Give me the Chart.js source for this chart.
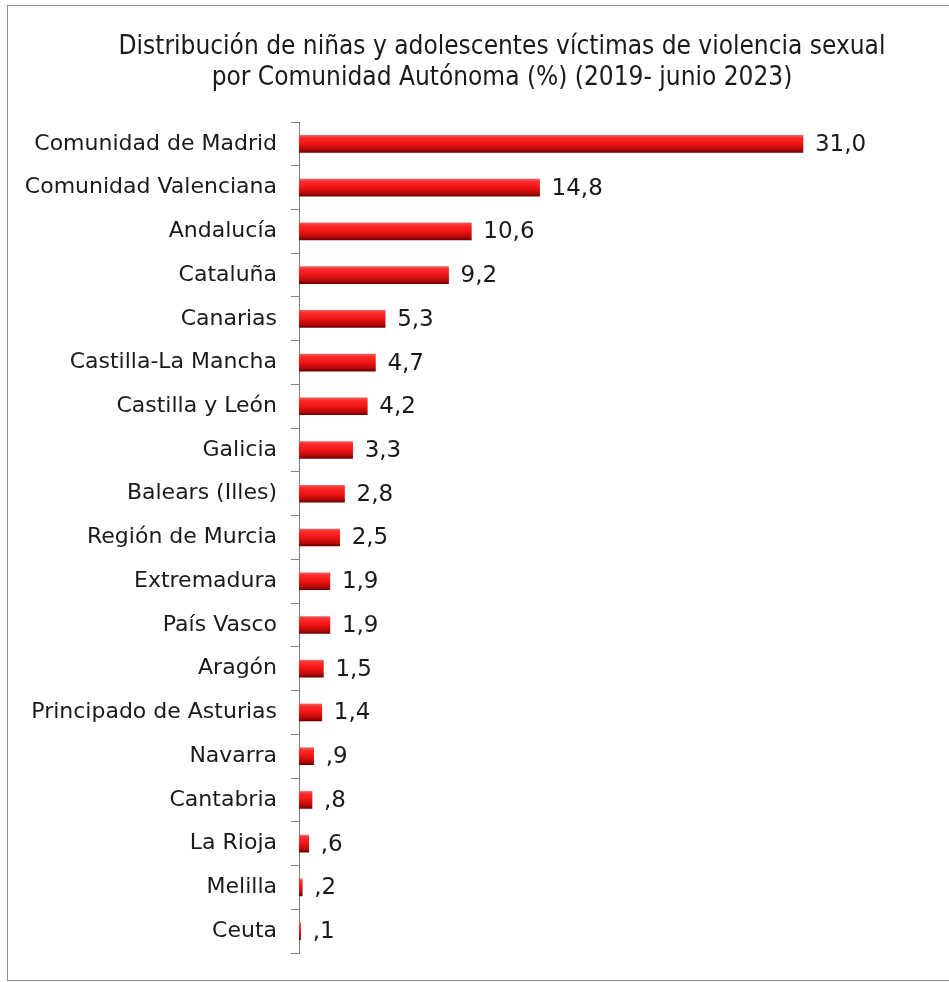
<!DOCTYPE html>
<html lang="es">
<head>
<meta charset="UTF-8">
<title>Niñas y adolescentes víctimas de violencia sexual</title>
<script src="https://cdn.jsdelivr.net/npm/chart.js"></script>
<style>
    body { margin: 0; background: #fff; }
    #wrap { position: relative; width: 949px; height: 982px; overflow: hidden; }
    #frame {
        position: absolute; left: 7px; top: 5px; width: 1000px; height: 974px;
        border: 1px solid #8c8c8c; pointer-events: none;
    }
</style>
</head>
<body>
<div id="wrap">
    <canvas id="chart"></canvas>
    <div id="frame"></div>
</div>
<script>
const regions = [
    "Comunidad de Madrid", "Comunidad Valenciana", "Andalucía", "Cataluña", "Canarias",
    "Castilla-La Mancha", "Castilla y León", "Galicia", "Balears (Illes)", "Región de Murcia",
    "Extremadura", "País Vasco", "Aragón", "Principado de Asturias", "Navarra",
    "Cantabria", "La Rioja", "Melilla", "Ceuta"
];
const percents = [31.0, 14.8, 10.6, 9.2, 5.3, 4.7, 4.2, 3.3, 2.8, 2.5, 1.9, 1.9, 1.5, 1.4, 0.9, 0.8, 0.6, 0.2, 0.1];
const titleLines = [
    "Distribución de niñas y adolescentes víctimas de violencia sexual",
    "por Comunidad Autónoma (%) (2019- junio 2023)"
];

const FONT = "'DejaVu Sans', sans-serif";
const TITLE_FONT = "26px 'DejaVu Sans Condensed', 'DejaVu Sans', sans-serif";
const BAR_H = 17;
const AXIS_X = 299;   // where the category axis sits

// spss-style label: 0,9 -> ",9"
function fmt(v) {
    return v.toFixed(1).replace('.', ',').replace(/^0/, '');
}

function barFill(ctx) {
    const chart = ctx.chart;
    const y = chart.scales && chart.scales.y;
    if (!y || ctx.dataIndex === undefined) return '#e01010';
    const mid = y.getPixelForValue(ctx.dataIndex);
    if (!isFinite(mid)) return '#e01010';
    const top = mid - BAR_H / 2;
    const g = chart.ctx.createLinearGradient(0, top, 0, top + BAR_H);
    g.addColorStop(0, '#e86060');
    g.addColorStop(0.15, '#ff2a2a');
    g.addColorStop(0.5, '#f01414');
    g.addColorStop(0.85, '#b00808');
    g.addColorStop(1, '#6e0000');
    return g;
}

const valueLabels = {
    id: 'valueLabels',
    afterDatasetsDraw(chart) {
        const c = chart.ctx;
        const meta = chart.getDatasetMeta(0);
        c.save();
        c.font = '23px ' + FONT;
        c.fillStyle = '#1a1a1a';
        c.textAlign = 'left';
        c.textBaseline = 'middle';
        meta.data.forEach((bar, i) => {
            c.fillText(fmt(percents[i]), bar.x + 12, bar.y + 1);
        });
        c.restore();
    }
};

// title sits a bit right of the canvas centre in the original
const titleBlock = {
    id: 'titleBlock',
    afterDraw(chart) {
        const c = chart.ctx;
        c.save();
        c.font = TITLE_FONT;
        c.fillStyle = '#1a1a1a';
        c.textAlign = 'center';
        c.textBaseline = 'middle';
        c.fillText(titleLines[0], 502, 47);
        c.fillText(titleLines[1], 502, 78);
        c.restore();
    }
};

new Chart(document.getElementById('chart'), {
    type: 'bar',
    data: {
        labels: regions,
        datasets: [{
            data: percents,
            backgroundColor: barFill,
            borderWidth: 0,
            barThickness: BAR_H
        }]
    },
    options: {
        indexAxis: 'y',
        responsive: true,
        maintainAspectRatio: false,
        animation: false,
        layout: { padding: { left: 0, right: 81, top: 122, bottom: 29 } },
        plugins: {
            legend: { display: false },
            tooltip: { enabled: false },
            title: { display: false }
        },
        scales: {
            x: { display: false, min: 0, max: 35 },
            y: {
                afterFit(scale) { scale.width = AXIS_X; },
                grid: {
                    offset: true,
                    drawOnChartArea: false,
                    tickLength: 8,
                    color: '#7f7f7f'
                },
                border: { color: '#7f7f7f', width: 1 },
                ticks: {
                    padding: 14,
                    color: '#1a1a1a',
                    font: { family: FONT, size: 22 }
                }
            }
        }
    },
    plugins: [valueLabels, titleBlock]
});
</script>
</body>
</html>
